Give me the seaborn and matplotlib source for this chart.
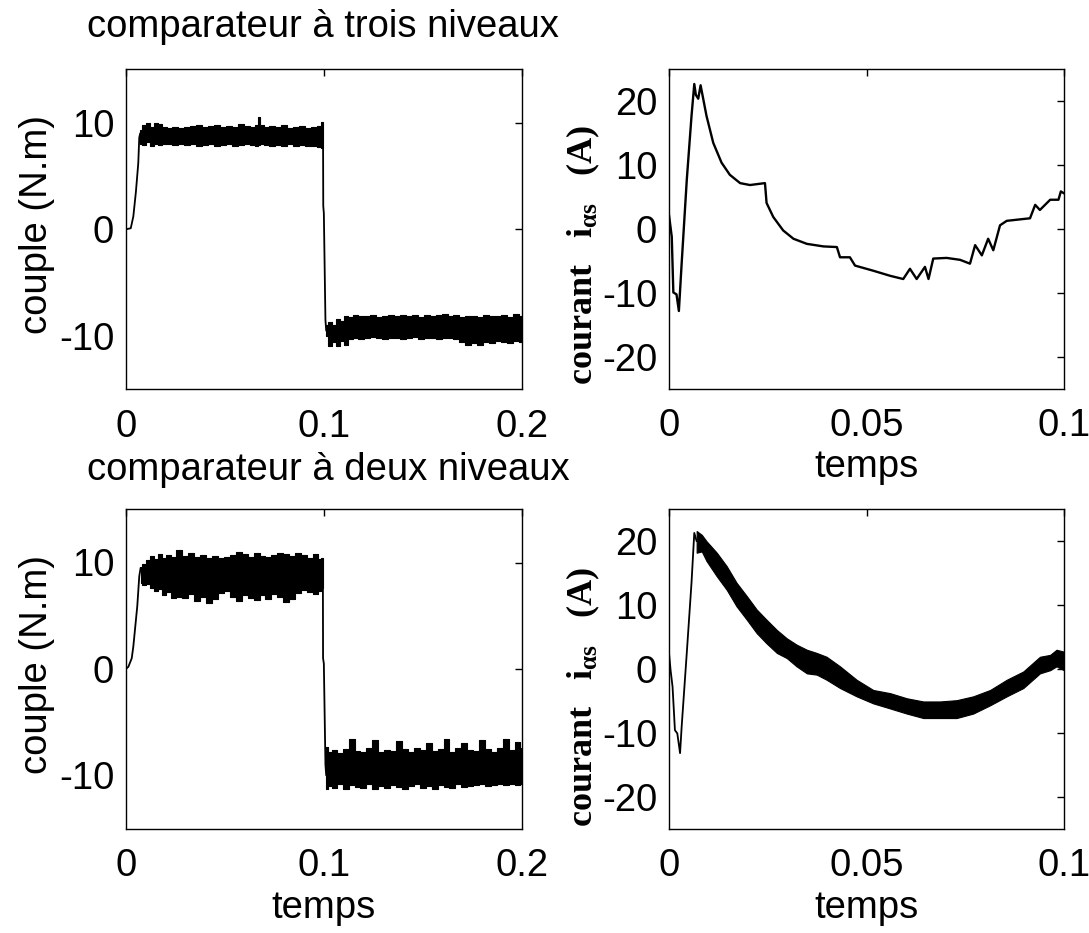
import numpy as np
import matplotlib
matplotlib.use("Agg")
import matplotlib.pyplot as plt
import seaborn as sns

# ---------------- data ----------------
# Torque, three-level comparator
rise_a_t = [0.0, 0.0024, 0.0037, 0.0050, 0.0062, 0.0067, 0.0072]
rise_a_v = [0.0, 0.1, 1.2, 3.5, 6.2, 8.6, 9.0]
pos_a_t = [0.007, 0.009, 0.011, 0.013, 0.015, 0.017, 0.019, 0.022, 0.025, 0.028, 0.031, 0.034,
           0.037, 0.040, 0.043, 0.046, 0.049, 0.052, 0.055, 0.058, 0.061, 0.064, 0.066, 0.067,
           0.068, 0.071, 0.074, 0.077, 0.080, 0.083, 0.086, 0.089, 0.092, 0.095, 0.098, 0.0995]
pos_a_hi = [9.3, 9.8, 10.0, 9.6, 10.0, 9.9, 9.6, 9.5, 9.6, 9.5, 9.6, 9.7,
            9.8, 9.6, 9.7, 9.8, 9.6, 9.7, 9.6, 9.9, 9.7, 9.6, 9.8, 10.5,
            9.8, 9.6, 9.7, 9.6, 9.8, 9.5, 9.6, 9.7, 9.5, 9.6, 9.7, 10.1]
pos_a_lo = [8.0, 7.9, 8.2, 7.8, 8.0, 7.9, 8.0, 8.0, 7.9, 8.0, 7.9, 8.0,
            7.8, 7.9, 8.0, 7.8, 7.9, 8.0, 7.8, 7.9, 8.0, 7.9, 7.8, 7.9,
            8.0, 7.9, 7.8, 7.9, 7.8, 8.0, 7.8, 7.9, 7.8, 7.8, 7.7, 7.6]
drop_a_t = [0.0996, 0.0997, 0.1000, 0.1008, 0.1012]
drop_a_v = [8.5, 2.2, 1.5, -8.5, -9.5]
neg_a_t = [0.1012, 0.103, 0.105, 0.107, 0.109, 0.111, 0.113, 0.116, 0.119, 0.122, 0.125, 0.128,
           0.131, 0.134, 0.137, 0.140, 0.143, 0.146, 0.149, 0.152, 0.155, 0.158, 0.161, 0.164,
           0.167, 0.170, 0.173, 0.176, 0.179, 0.182, 0.185, 0.188, 0.191, 0.194, 0.197, 0.200]
neg_a_hi = [-9.0, -8.7, -9.0, -8.4, -8.6, -8.1, -8.2, -8.0, -8.1, -8.1, -8.0, -8.2,
            -8.1, -8.0, -8.1, -8.0, -8.1, -8.0, -8.2, -8.0, -8.1, -8.0, -7.9, -8.1,
            -8.0, -8.2, -8.1, -8.1, -8.2, -8.0, -8.1, -8.1, -8.0, -8.2, -7.9, -8.1]
neg_a_lo = [-10.0, -10.9, -10.6, -10.9, -10.5, -10.8, -10.3, -10.2, -10.3, -10.2, -10.1, -10.2,
            -10.3, -10.2, -10.2, -10.3, -10.2, -10.1, -10.3, -10.2, -10.2, -10.3, -10.2, -10.2,
            -10.3, -10.6, -10.8, -10.7, -10.8, -10.6, -10.7, -10.5, -10.6, -10.7, -10.5, -10.6]

# Current, three-level comparator
cur_a_t = [0.0, 0.0007, 0.0011, 0.0019, 0.0025, 0.0032, 0.0045, 0.0057, 0.0064, 0.0068, 0.0074,
           0.0080, 0.0095, 0.0112, 0.0133, 0.0154, 0.0180, 0.0205, 0.0243, 0.0247, 0.0264, 0.0289,
           0.0315, 0.0349, 0.0391, 0.0425, 0.0433, 0.0458, 0.0471, 0.0517, 0.0560, 0.0593, 0.0610,
           0.0627, 0.0648, 0.0657, 0.0669, 0.0703, 0.0737, 0.0762, 0.0775, 0.0792, 0.0808, 0.0821,
           0.0838, 0.0855, 0.0914, 0.0927, 0.0939, 0.0965, 0.0986, 0.0992, 0.1000]
cur_a_v = [2.2, -1.2, -9.9, -10.2, -12.8, -5.4, 7.7, 17.7, 22.7, 21.0, 20.4,
           22.5, 17.7, 13.5, 10.4, 8.5, 7.2, 6.9, 7.2, 4.1, 1.9, -0.2,
           -1.5, -2.3, -2.7, -2.8, -4.4, -4.4, -5.7, -6.5, -7.3, -7.8, -6.2,
           -7.8, -5.9, -7.8, -4.6, -4.5, -4.8, -5.4, -2.5, -4.1, -1.5, -3.3,
           0.6, 1.3, 1.7, 3.8, 3.0, 4.6, 4.6, 5.9, 5.6]

# Torque, two-level comparator
rise_b_t = [0.0, 0.0012, 0.0029, 0.0037, 0.0057, 0.0067, 0.0074]
rise_b_v = [0.0, 0.2, 1.0, 2.1, 5.9, 8.7, 9.5]
pos_b_t = [0.0074, 0.009, 0.011, 0.013, 0.015, 0.017, 0.019, 0.021, 0.024, 0.027, 0.030, 0.033,
           0.036, 0.039, 0.042, 0.045, 0.048, 0.051, 0.054, 0.057, 0.060, 0.063, 0.066, 0.069,
           0.072, 0.075, 0.078, 0.081, 0.084, 0.087, 0.090, 0.093, 0.096, 0.098, 0.0995]
pos_b_hi = [9.6, 9.9, 10.2, 10.6, 10.3, 10.8, 10.4, 10.7, 10.5, 11.2, 10.6, 10.9,
            10.5, 10.7, 10.4, 10.6, 10.4, 10.5, 10.7, 11.0, 10.8, 10.5, 10.9, 10.6,
            10.5, 10.7, 10.9, 10.8, 10.6, 10.9, 10.7, 10.4, 10.8, 10.3, 10.4]
pos_b_lo = [8.1, 7.9, 8.0, 7.6, 7.3, 7.5, 6.9, 7.2, 6.7, 6.8, 6.7, 7.0,
            6.4, 6.8, 6.2, 6.6, 7.1, 7.3, 6.8, 6.4, 6.9, 6.7, 6.5, 6.9,
            6.6, 7.0, 6.8, 6.3, 6.6, 7.1, 7.4, 7.2, 7.0, 7.3, 7.6]
drop_b_t = [0.0995, 0.0996, 0.1000, 0.1008, 0.1012]
drop_b_v = [9.6, 1.0, 0.5, -9.0, -10.0]
neg_b_t = [0.1012, 0.103, 0.105, 0.108, 0.111, 0.114, 0.117, 0.120, 0.123, 0.126, 0.129, 0.132,
           0.135, 0.138, 0.141, 0.144, 0.147, 0.150, 0.153, 0.156, 0.159, 0.162, 0.165, 0.168,
           0.171, 0.174, 0.177, 0.180, 0.183, 0.186, 0.189, 0.192, 0.195, 0.198, 0.200]
neg_b_hi = [-7.3, -7.8, -7.6, -7.9, -7.5, -6.6, -7.7, -7.8, -7.4, -6.7, -7.8, -7.6,
            -7.7, -6.8, -7.5, -7.8, -7.4, -7.6, -7.0, -7.7, -7.5, -6.6, -7.8, -7.4,
            -7.0, -7.6, -7.7, -6.7, -7.5, -7.8, -7.4, -6.6, -7.6, -6.9, -7.4]
neg_b_lo = [-11.3, -11.0, -11.2, -10.8, -11.3, -10.9, -11.1, -11.2, -10.8, -11.3, -11.0, -11.2,
            -10.9, -11.1, -11.3, -11.0, -10.8, -11.2, -11.0, -11.3, -10.9, -11.1, -11.2, -10.8,
            -11.1, -11.0, -10.9, -10.8, -11.0, -10.9, -10.8, -10.9, -10.8, -10.9, -10.8]

# Current, two-level comparator
cur_b_start_t = [0.0, 0.0004, 0.0009, 0.0015, 0.0021, 0.0028, 0.0032, 0.0045, 0.0057, 0.0064, 0.0070]
cur_b_start_v = [2.5, -0.2, -2.8, -9.6, -10.1, -13.2, -9.1, 2.5, 13.5, 21.3, 20.0]
cur_b_t = [0.0070, 0.0083, 0.0095, 0.0121, 0.0146, 0.0171, 0.0197, 0.0222, 0.0247, 0.0273, 0.0298,
           0.0323, 0.0349, 0.0374, 0.0399, 0.0433, 0.0475, 0.0517, 0.0560, 0.0602, 0.0644, 0.0686,
           0.0728, 0.0770, 0.0813, 0.0855, 0.0897, 0.0939, 0.0965, 0.0981, 0.1000]
cur_b_hi = [21.6, 21.0, 20.0, 18.2, 16.1, 13.5, 11.4, 9.3, 7.7, 6.1, 4.8,
            3.8, 3.0, 2.5, 1.9, 0.4, -1.7, -3.3, -3.8, -4.6, -5.1, -5.1,
            -4.9, -4.3, -3.3, -1.7, -0.4, 1.9, 2.2, 3.0, 2.7]
cur_b_lo = [18.2, 18.4, 16.9, 14.5, 12.4, 9.8, 7.7, 5.6, 4.0, 2.5, 1.7,
            0.4, -0.7, -0.9, -1.7, -3.0, -4.3, -5.4, -6.2, -7.0, -7.7, -7.7,
            -7.7, -7.0, -5.7, -4.3, -3.0, -0.7, -0.2, 0.4, -0.2]

torque_ticks_x = [0, 0.1, 0.2]
torque_ticklabels_x = ["0", "0.1", "0.2"]
torque_ticks_y = [-10, 0, 10]
current_ticks_x = [0, 0.05, 0.1]
current_ticklabels_x = ["0", "0.05", "0.1"]
current_ticks_y = [-20, -10, 0, 10, 20]

title_top = "comparateur à trois niveaux"
title_bottom = "comparateur à deux niveaux"
ylabel_torque = "couple (N.m)"
ylabel_current = r"courant   i$_{\alpha s}$   (A)"
xlabel = "temps"

# ---------------- style ----------------
sns.set_theme(style="white")
plt.rcParams["font.family"] = ["Liberation Sans", "DejaVu Sans"]
plt.rcParams["text.color"] = "black"
plt.rcParams["axes.labelcolor"] = "black"
plt.rcParams["xtick.color"] = "black"
plt.rcParams["ytick.color"] = "black"
plt.rcParams["mathtext.fontset"] = "custom"
plt.rcParams["mathtext.rm"] = "Liberation Serif:bold"
plt.rcParams["mathtext.it"] = "Liberation Serif:bold"
plt.rcParams["mathtext.bf"] = "Liberation Serif:bold"

W, H = 1089, 933
fig = plt.figure(figsize=(W / 100, H / 100), dpi=100)
fig.patch.set_facecolor("white")

FS = 27.5
LW = 1.3


def px_axes(l, t, r, b):
    return fig.add_axes([l / W, 1 - b / H, (r - l) / W, (b - t) / H])


ax_tl = px_axes(126, 69.3, 521.7, 389.3)
ax_tr = px_axes(669, 69.3, 1064, 389.0)
ax_bl = px_axes(126, 509.3, 521.7, 828.5)
ax_br = px_axes(669, 509.3, 1064, 828.5)


def style(ax, xlim, ylim, xt, xtl, yt):
    ax.set_xlim(*xlim)
    ax.set_ylim(*ylim)
    ax.set_xticks(xt)
    ax.set_xticklabels(xtl)
    ax.set_yticks(yt)
    ax.set_yticklabels([str(v) for v in yt])
    ax.tick_params(axis="both", which="both", direction="in", length=5, width=1.0,
                   top=True, right=True, labelsize=FS, colors="black", labelcolor="black")
    ax.tick_params(axis="x", pad=14.0)
    ax.tick_params(axis="y", pad=8.5)
    for s in ax.spines.values():
        s.set_visible(True)
        s.set_color("black")
        s.set_linewidth(1.0)
    ax.set_facecolor("white")
    ax.grid(False)
    ax.set_xlabel("")
    ax.set_ylabel("")


def line(ax, t, v, lw=LW):
    sns.lineplot(x=t, y=v, ax=ax, color="black", linewidth=lw, estimator=None, sort=False)


def band(ax, t, hi, lo, step=None):
    ax.fill_between(t, lo, hi, color="black", linewidth=0.8, edgecolor="black", step=step)


# Top-left
line(ax_tl, rise_a_t, rise_a_v)
band(ax_tl, pos_a_t, pos_a_hi, pos_a_lo, step="mid")
line(ax_tl, drop_a_t, drop_a_v)
band(ax_tl, neg_a_t, neg_a_hi, neg_a_lo, step="mid")
style(ax_tl, (0, 0.2), (-15, 15), torque_ticks_x, torque_ticklabels_x, torque_ticks_y)

# Top-right
line(ax_tr, cur_a_t, cur_a_v, lw=1.7)
style(ax_tr, (0, 0.1), (-25, 25), current_ticks_x, current_ticklabels_x, current_ticks_y)

# Bottom-left
line(ax_bl, rise_b_t, rise_b_v)
band(ax_bl, pos_b_t, pos_b_hi, pos_b_lo, step="mid")
line(ax_bl, drop_b_t, drop_b_v)
band(ax_bl, neg_b_t, neg_b_hi, neg_b_lo, step="mid")
style(ax_bl, (0, 0.2), (-15, 15), torque_ticks_x, torque_ticklabels_x, torque_ticks_y)

# Bottom-right
line(ax_br, cur_b_start_t, cur_b_start_v)
band(ax_br, cur_b_t, cur_b_hi, cur_b_lo)
style(ax_br, (0, 0.1), (-25, 25), current_ticks_x, current_ticklabels_x, current_ticks_y)

# Texts
fig.text(87 / W, 1 - 36.7 / H, title_top, ha="left", va="baseline", fontsize=FS, color="black")
fig.text(87 / W, 1 - 480 / H, title_bottom, ha="left", va="baseline", fontsize=FS, color="black")

fig.text(37 / W, 1 - 225 / H, ylabel_torque, rotation=90, ha="center", va="center",
         fontsize=FS, color="black")
fig.text(37 / W, 1 - 665 / H, ylabel_torque, rotation=90, ha="center", va="center",
         fontsize=FS, color="black")

for yc in (255, 697):
    fig.text(583 / W, 1 - yc / H, ylabel_current, rotation=90, ha="center", va="center",
             fontsize=26, family="Liberation Serif", fontweight="bold", color="black")

fig.text(866.5 / W, 1 - 477 / H, xlabel, ha="center", va="baseline", fontsize=FS, color="black")
fig.text(323.8 / W, 1 - 918 / H, xlabel, ha="center", va="baseline", fontsize=FS, color="black")
fig.text(866.5 / W, 1 - 918 / H, xlabel, ha="center", va="baseline", fontsize=FS, color="black")

fig.savefig("out.png", dpi=100, facecolor="white")
